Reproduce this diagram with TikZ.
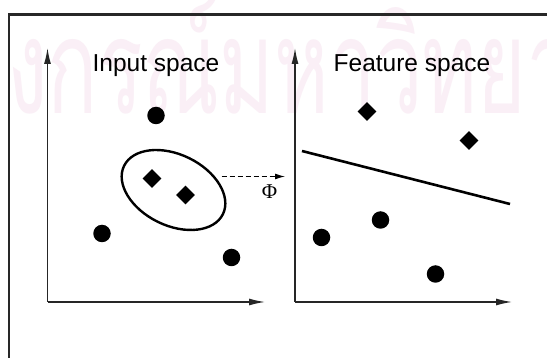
\documentclass[tikz,border=0pt]{standalone}
\usepackage{fontspec}
\setmainfont{Liberation Sans}
\newfontfamily\phifont{Liberation Serif}
\newfontfamily\thaifont[Script=Thai]{Loma}
\usetikzlibrary{arrows.meta,shapes.geometric}
\definecolor{wm}{RGB}{250,239,246}
\definecolor{framec}{RGB}{40,40,40}
\begin{document}
\begin{tikzpicture}[x=1pt,y=-1pt,
  dot/.style={circle,fill=black,inner sep=0pt,minimum size=17.5pt},
  gem/.style={diamond,fill=black,inner sep=0pt,minimum size=19pt},
  axisline/.style={line width=1.3pt,draw=black!85,-{Latex[length=16pt,width=7pt]}},
  title/.style={font=\fontsize{24.5}{28}\selectfont,anchor=base,inner sep=0pt},
  mapline/.style={dashed,dash pattern=on 5pt off 3pt,line width=1.1pt,-{Latex[length=10pt,width=6pt]}}]
\useasboundingbox (0,0) rectangle (547,358);
\clip (0,0) rectangle (547,358);
\fill[white] (0,0) rectangle (547,358);
% watermark
\node[anchor=base west,inner sep=0pt,xscale=0.63,text=wm,font=\thaifont\fontsize{132}{132}\selectfont] (wmark) at (7,114) {งกรณ์มหาวิทยาลัย};
% frame
\coordinate (fbl) at (9,400);
\coordinate (ftl) at (9,14.5);
\coordinate (ftr) at (600,14.5);
\draw[line width=2.5pt,framec] (fbl) -- (ftl) -- (ftr);
% axes
\coordinate (o1) at (47.5,302);
\coordinate (y1) at (47.5,48);
\coordinate (x1) at (265,302);
\coordinate (o2) at (295,302);
\coordinate (y2) at (295,48);
\coordinate (x2) at (512,302);
\draw[axisline] (o1) -- (y1);
\draw[axisline] (o1) -- (x1);
\draw[axisline] (o2) -- (y2);
\draw[axisline] (o2) -- (x2);
% titles
\node[title] (t1) at (156,71.5) {Input space};
\node[title] (t2) at (412,71.5) {Feature space};
% input space points
\node[dot] (a1) at (156,115.5) {};
\node[dot] (a2) at (102,233.5) {};
\node[dot] (a3) at (231.5,257.5) {};
\node[gem] (b1) at (152,178.5) {};
\node[gem] (b2) at (185.5,195) {};
\coordinate (ec) at (173.5,190);
\draw[line width=2.4pt,rotate around={-26:(ec)}] (ec) ellipse [x radius=55, y radius=35.5];
% mapping
\coordinate (ms) at (221.5,176.5);
\coordinate (me) at (285,176.5);
\draw[mapline] (ms) -- (me);
\node[font=\phifont\fontsize{21}{24}\selectfont,inner sep=0pt] (phi) at (269.5,192) {Φ};
% feature space points
\node[gem] (c1) at (367,111.5) {};
\node[gem] (c2) at (469,140.5) {};
\node[dot] (d1) at (321.5,237.5) {};
\node[dot] (d2) at (380.5,220) {};
\node[dot] (d3) at (435.5,274) {};
\coordinate (ls) at (302,151);
\coordinate (le) at (510,204);
\draw[line width=2.6pt] (ls) -- (le);
\end{tikzpicture}
\end{document}
